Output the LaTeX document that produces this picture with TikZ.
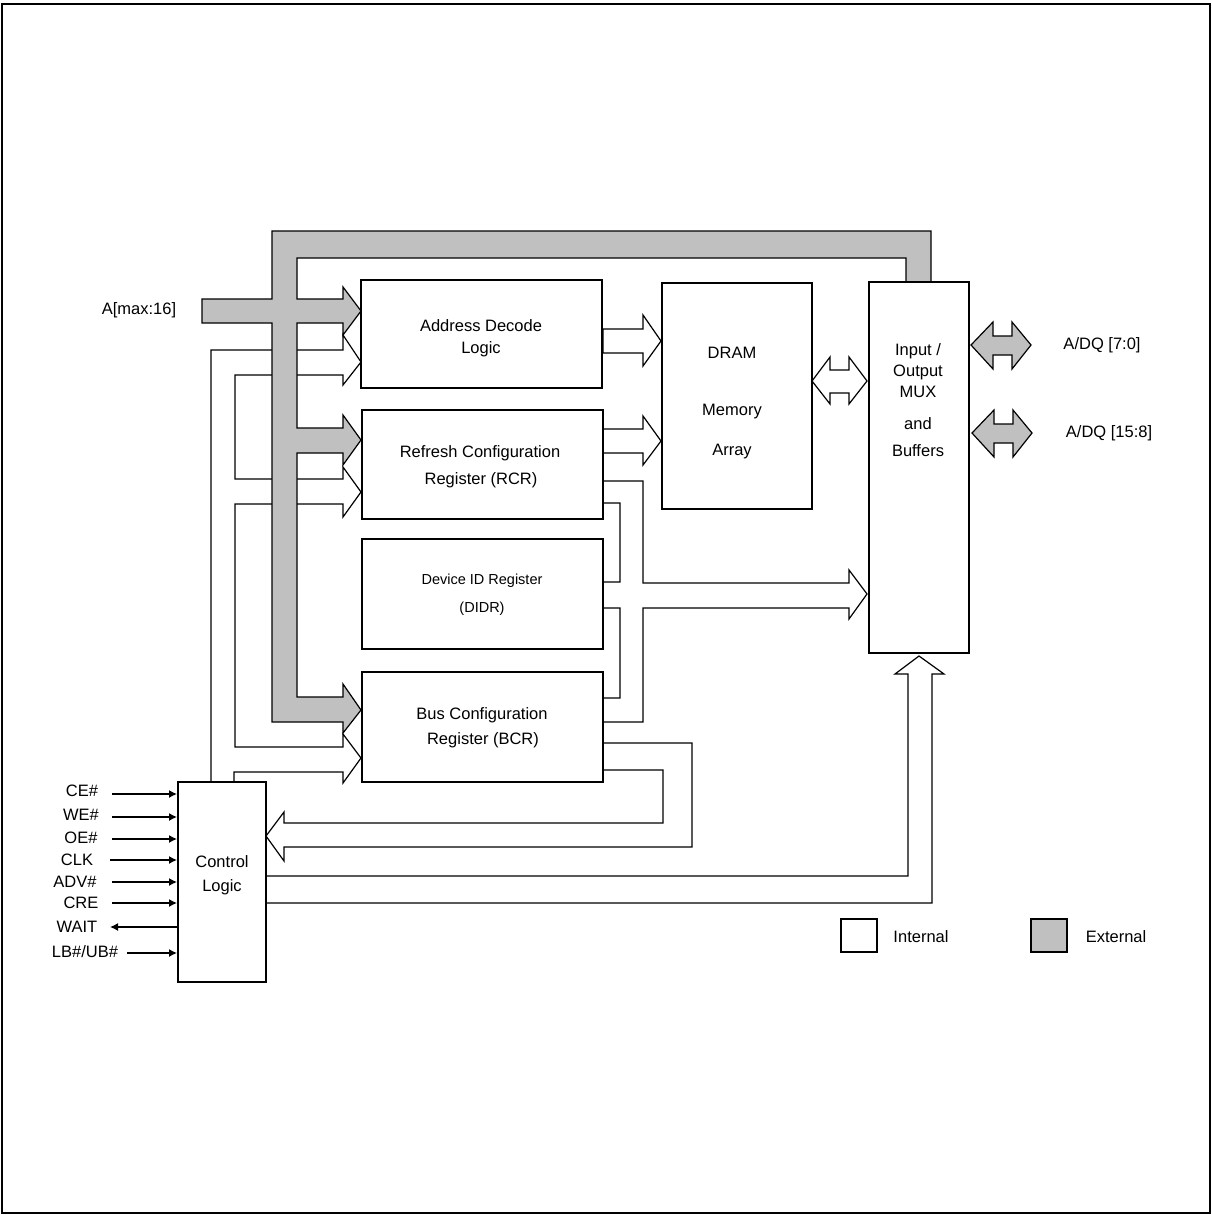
\documentclass[tikz,border=0pt]{standalone}
\usepackage{fontspec}
\setmainfont{Liberation Sans}
\usetikzlibrary{arrows.meta}
\definecolor{busgray}{HTML}{C0C0C0}
\newcommand\fa{\fontsize{16.5}{20}\selectfont}
\newcommand\fb{\fontsize{14.5}{18}\selectfont}
\tikzset{
  blk/.style={draw, line width=2pt, fill=white, inner sep=0pt},
  wbus/.style={draw, line width=1.2pt, fill=white, line join=miter},
  gbus/.style={draw, line width=1.2pt, fill=busgray, line join=miter},
  lbl/.style={font=\fa, inner sep=0pt, align=center},
  pin/.style={line width=1.3pt, -{Latex[length=8pt,width=8pt]}},
}
\begin{document}
\begin{tikzpicture}[x=1pt,y=-1pt]
\useasboundingbox (0,0) rectangle (1212,1215);
\draw[line width=1.5pt] (2,4) rectangle (1210,1213);

% white control bus to registers
\path[wbus] (211,782) -- (211,350) -- (343,350) -- (343,335) -- (361,362) -- (343,385) -- (343,375)
  -- (235,375) -- (235,479) -- (343,479) -- (343,467) -- (361,492) -- (343,517) -- (343,504)
  -- (235,504) -- (235,747) -- (343,747) -- (343,734) -- (361,758) -- (343,783) -- (343,772)
  -- (234,772) -- (234,782) -- cycle;

% gray address bus
\path[gbus] (202,299) -- (272,299) -- (272,231) -- (931,231) -- (931,282) -- (906,282) -- (906,258)
  -- (297,258) -- (297,299) -- (343,299) -- (343,287) -- (361,311) -- (343,335) -- (343,323)
  -- (297,323) -- (297,428) -- (343,428) -- (343,415) -- (361,440) -- (343,465) -- (343,453)
  -- (297,453) -- (297,697) -- (343,697) -- (343,684) -- (361,710) -- (343,733) -- (343,722)
  -- (272,722) -- (272,323) -- (202,323) -- cycle;

% register outputs to IO
\path[wbus] (603,481) -- (643,481) -- (643,583) -- (849,583) -- (849,570) -- (867,594) -- (849,619)
  -- (849,608) -- (643,608) -- (643,722) -- (603,722) -- (603,698) -- (620,698) -- (620,608)
  -- (603,608) -- (603,582) -- (620,582) -- (620,503) -- (603,503) -- cycle;

% BCR to control
\path[wbus] (603,743) -- (692,743) -- (692,847) -- (284,847) -- (284,861) -- (266,836) -- (284,812)
  -- (284,823) -- (663,823) -- (663,770) -- (603,770) -- cycle;

% control to IO
\path[wbus] (266,876) -- (908,876) -- (908,674) -- (895,674) -- (919,656) -- (944,674) -- (932,674)
  -- (932,903) -- (266,903) -- cycle;

% ADL to DRAM, RCR to DRAM
\path[wbus] (603,329) -- (643,329) -- (643,315) -- (661,341) -- (643,366) -- (643,353) -- (603,353) -- cycle;
\path[wbus] (603,429) -- (643,429) -- (643,416) -- (661,441) -- (643,465) -- (643,453) -- (603,453) -- cycle;

% DRAM <-> IO
\path[wbus] (812,381) -- (830,357) -- (830,370) -- (849,370) -- (849,357) -- (867,381) -- (849,404)
  -- (849,393) -- (830,393) -- (830,404) -- cycle;

% external data buses
\path[gbus] (971,345) -- (993,322) -- (993,336) -- (1012,336) -- (1012,322) -- (1031,345) -- (1012,369)
  -- (1012,355) -- (993,355) -- (993,369) -- cycle;
\path[gbus] (972,433) -- (994,410) -- (994,424) -- (1013,424) -- (1013,410) -- (1032,433) -- (1013,457)
  -- (1013,443) -- (994,443) -- (994,457) -- cycle;

% blocks
\node[blk, minimum width=241pt, minimum height=108pt] (adl) at (481.5,334) {};
\node[blk, minimum width=241pt, minimum height=109pt] (rcr) at (482.5,464.5) {};
\node[blk, minimum width=241pt, minimum height=110pt] (didr) at (482.5,594) {};
\node[blk, minimum width=241pt, minimum height=110pt] (bcr) at (482.5,727) {};
\node[blk, minimum width=150pt, minimum height=226pt] (dram) at (737,396) {};
\node[blk, minimum width=100pt, minimum height=371pt] (io) at (919,467.5) {};
\node[blk, minimum width=88pt, minimum height=200pt] (ctrl) at (222,882) {};

% block texts
\node[lbl] (t-adl1) at (481,326) {Address Decode};
\node[lbl] (t-adl2) at (481,349) {Logic};
\node[lbl] (t-rcr1) at (480,453) {Refresh Configuration};
\node[lbl] (t-rcr2) at (481,480) {Register (RCR)};
\node[lbl, font=\fb] (t-didr1) at (482,581) {Device ID Register};
\node[lbl, font=\fb] (t-didr2) at (482,609) {(DIDR)};
\node[lbl] (t-bcr1) at (482,715) {Bus Configuration};
\node[lbl] (t-bcr2) at (483,740) {Register (BCR)};
\node[lbl] (t-dram1) at (732,353) {DRAM};
\node[lbl] (t-dram2) at (732,412) {Memory};
\node[lbl] (t-dram3) at (732,452) {Array};
\node[lbl] (t-io1) at (918,351) {Input /};
\node[lbl] (t-io2) at (918,372) {Output};
\node[lbl] (t-io3) at (918,392) {MUX};
\node[lbl] (t-io4) at (918,424) {and};
\node[lbl] (t-io5) at (918,451) {Buffers};
\node[lbl] (t-ctl1) at (222,862) {Control};
\node[lbl] (t-ctl2) at (222,887) {Logic};

% external labels
\node[lbl] (t-a) at (139,310) {A[max:16]};
\node[lbl] (t-dq1) at (1102,345) {A/DQ [7:0]};
\node[lbl] (t-dq2) at (1109,433) {A/DQ [15:8]};

% pins
\node[lbl] (l-ce) at (82,791) {CE\#};
\node[lbl] (l-we) at (81,815) {WE\#};
\node[lbl] (l-oe) at (81,838) {OE\#};
\node[lbl] (l-clk) at (77,860) {CLK};
\node[lbl] (l-adv) at (75,882) {ADV\#};
\node[lbl] (l-cre) at (81,903) {CRE};
\node[lbl] (l-wait) at (77,927) {WAIT};
\node[lbl] (l-lb) at (85,952) {LB\#/UB\#};
\coordinate (p-ce) at (112,794);
\coordinate (p-we) at (112,817);
\coordinate (p-oe) at (112,839);
\coordinate (p-clk) at (110,860);
\coordinate (p-adv) at (112,882);
\coordinate (p-cre) at (112,903);
\coordinate (p-wait) at (110,927);
\coordinate (p-lb) at (127,953);
\draw[pin] (p-ce) -- (p-ce -| ctrl.west);
\draw[pin] (p-we) -- (p-we -| ctrl.west);
\draw[pin] (p-oe) -- (p-oe -| ctrl.west);
\draw[pin] (p-clk) -- (p-clk -| ctrl.west);
\draw[pin] (p-adv) -- (p-adv -| ctrl.west);
\draw[pin] (p-cre) -- (p-cre -| ctrl.west);
\draw[pin] (p-wait -| ctrl.west) -- (p-wait);
\draw[pin] (p-lb) -- (p-lb -| ctrl.west);

% legend
\node[draw, line width=1.2pt, fill=white, minimum width=36pt, minimum height=33pt, inner sep=0pt] (leg-int) at (859,935.5) {};
\node[lbl] (t-int) at (921,937) {Internal};
\node[draw, line width=1.2pt, fill=busgray, minimum width=36pt, minimum height=33pt, inner sep=0pt] (leg-ext) at (1049,935.5) {};
\node[lbl] (t-ext) at (1116,937) {External};
\end{tikzpicture}
\end{document}
